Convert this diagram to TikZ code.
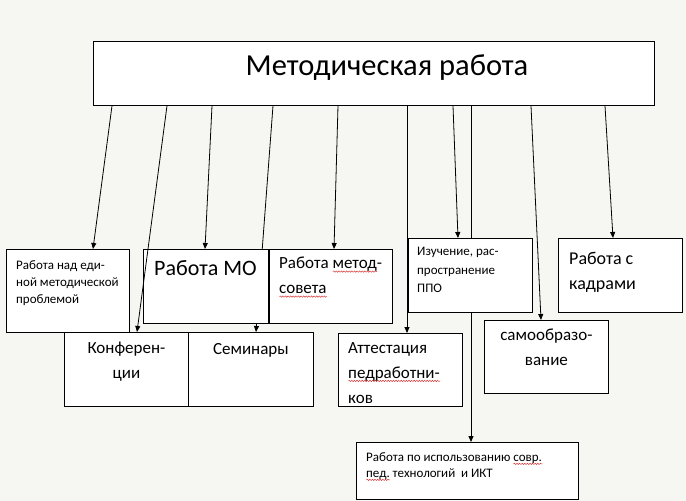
\documentclass[tikz,border=0pt]{standalone}
\usepackage{fontspec}
\setmainfont{Carlito}
\usetikzlibrary{arrows.meta,backgrounds,decorations.pathmorphing}
\definecolor{PaperGrey}{RGB}{246,246,242}
\definecolor{SpellRed}{RGB}{215,45,45}
\newsavebox\spellbox
\newcommand\spellwave[1]{\sbox\spellbox{#1}\rlap{\tikz[baseline=0pt]\draw[SpellRed, line width=0.45pt,
    decorate, decoration={snake, amplitude=0.7pt, segment length=2.6pt}]
    (0pt,-2.8pt) -- (\the\wd\spellbox,-2.8pt);}\usebox\spellbox}
\newcommand\bigsize{\fontsize{17}{25}\selectfont}
\newcommand\smallsize{\fontsize{13}{17}\selectfont}

\begin{document}
\begin{tikzpicture}[
      x=1pt, y=-1pt,
      frame/.style={draw, fill=white, line width=0.8pt, anchor=north west, inner sep=0pt},
      lbl/.style={anchor=north west, align=left, inner sep=0pt},
      clbl/.style={anchor=north, align=center, inner sep=0pt},
      arr/.style={-{Triangle[length=6pt,width=5pt]}, line width=0.8pt}
  ]
    \begin{scope}[on background layer]
      \fill[PaperGrey] (0,0) rectangle (686,501);
    \end{scope}
    \useasboundingbox (0,0) rectangle (686,501);

    % boxes
    \node[frame, minimum width=561pt, minimum height=64pt] (top) at (93,41) {};
    \node[frame, minimum width=123pt, minimum height=83pt] (edin) at (6,249) {};
    \node[frame, minimum width=125pt, minimum height=74pt] (mo) at (143,249) {};
    \node[frame, minimum width=123pt, minimum height=74pt] (metod) at (269,249) {};
    \node[frame, minimum width=124pt, minimum height=74pt] (izuch) at (408,238) {};
    \node[frame, minimum width=124pt, minimum height=74pt] (kadry) at (558,238) {};
    \node[frame, minimum width=124pt, minimum height=74pt] (konf) at (64,332) {};
    \node[frame, minimum width=125pt, minimum height=74pt] (semin) at (188,332) {};
    \node[frame, minimum width=124pt, minimum height=73pt] (attest) at (338,333) {};
    \node[frame, minimum width=124pt, minimum height=73pt] (samoobr) at (484,320) {};
    \node[frame, minimum width=222pt, minimum height=57pt] (ikt) at (356,442) {};

    % texts
    \node[anchor=base, font=\fontsize{30.5}{32}\selectfont] (title)
      at ([xshift=294pt, yshift=-34pt]top.north west) {Методическая работа};
    \node[lbl, font=\smallsize] (edin-t) at ([xshift=10pt, yshift=-11pt]edin.north west)
      {Работа над еди-\\ной методической\\проблемой};
    \node[lbl, font=\fontsize{22}{25}\selectfont] (mo-t) at ([xshift=11pt, yshift=-11pt]mo.north west)
      {Работа МО};
    \node[lbl, font=\bigsize] (metod-t) at ([xshift=10pt, yshift=-8pt]metod.north west)
      {Работа \spellwave{метод}-\\\spellwave{совета}};
    \node[lbl, font=\fontsize{13}{18.5}\selectfont] (izuch-t) at ([xshift=9pt, yshift=-9pt]izuch.north west)
      {Изучение, рас-\\пространение\\ППО};
    \node[lbl, font=\fontsize{18}{25}\selectfont] (kadry-t) at ([xshift=11pt, yshift=-14pt]kadry.north west)
      {Работа с\\кадрами};
    \node[clbl, font=\bigsize] (konf-t) at ([yshift=-10pt]konf.north) {Конферен-\\ции};
    \node[clbl, font=\bigsize] (semin-t) at ([yshift=-11pt]semin.north) {Семинары};
    \node[lbl, font=\bigsize] (attest-t) at ([xshift=10pt, yshift=-9pt]attest.north west)
      {Аттестация\\\spellwave{педработни-}\\ков};
    \node[clbl, font=\bigsize] (samoobr-t) at ([yshift=-9pt]samoobr.north) {самообразо-\\вание};
    \node[lbl, font=\fontsize{13}{16}\selectfont] (ikt-t) at ([xshift=10pt, yshift=-10pt]ikt.north west)
      {Работа по использованию \spellwave{совр.}\\\spellwave{пед.} технологий~ и ИКТ};

    % connectors
    \draw[arr] ([xshift=19pt]top.south west) -- ([xshift=87pt]edin.north west);
    \draw[arr] ([xshift=74pt]top.south west) -- ([xshift=73pt]konf.north west);
    \draw[arr] ([xshift=119pt]top.south west) -- ([xshift=62pt]mo.north west);
    \begin{scope}[on background layer]
      \draw[arr] ([xshift=180pt]top.south west) -- ([xshift=68pt]semin.north west);
    \end{scope}
    \draw[arr] ([xshift=245pt]top.south west) -- ([xshift=65pt]metod.north west);
    \draw[arr] ([xshift=314pt]top.south west) -- ([xshift=69pt]attest.north west);
    \draw[arr] ([xshift=360pt]top.south west) -- ([xshift=50pt]izuch.north west);
    \draw[line width=0.8pt] ([xshift=378pt]top.south west) -- ([xshift=63pt]izuch.north west);
    \draw[arr] ([xshift=63pt]izuch.south west) -- ([xshift=115pt]ikt.north west);
    \draw[arr] ([xshift=438pt]top.south west) -- ([xshift=57pt]samoobr.north west);
    \draw[arr] ([xshift=512pt]top.south west) -- ([xshift=55pt]kadry.north west);
  \end{tikzpicture}
\end{document}
